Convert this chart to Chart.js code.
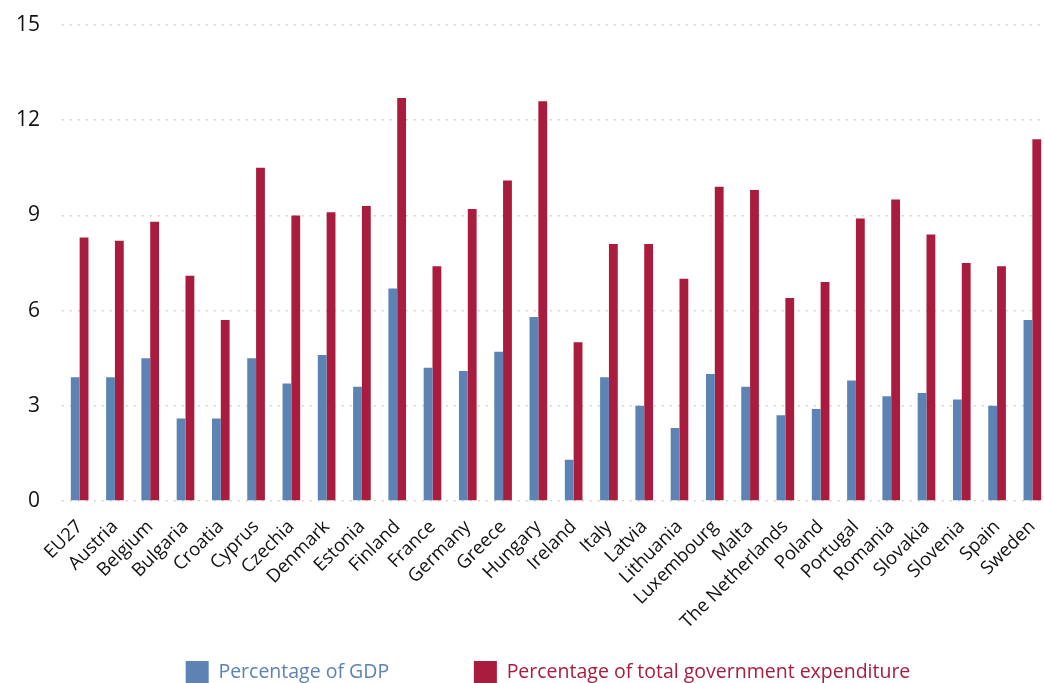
<!DOCTYPE html>
<html>
<head>
<meta charset="utf-8">
<script src="https://cdn.jsdelivr.net/npm/chart.js@4"></script>
<style>
  html, body { margin: 0; padding: 0; background: #fff; overflow: hidden; }
  #wrap { position: relative; width: 1052px; height: 694px; }
</style>
</head>
<body>
<div id="wrap"><canvas id="chart"></canvas></div>
<script>
const countries = ['EU27', 'Austria', 'Belgium', 'Bulgaria', 'Croatia', 'Cyprus', 'Czechia', 'Denmark',
  'Estonia', 'Finland', 'France', 'Germany', 'Greece', 'Hungary', 'Ireland', 'Italy', 'Latvia',
  'Lithuania', 'Luxembourg', 'Malta', 'The Netherlands', 'Poland', 'Portugal', 'Romania',
  'Slovakia', 'Slovenia', 'Spain', 'Sweden'];
const pctGdp = [3.9, 3.9, 4.5, 2.6, 2.6, 4.5, 3.7, 4.6, 3.6, 6.7, 4.2, 4.1, 4.7, 5.8, 1.3, 3.9, 3.0,
  2.3, 4.0, 3.6, 2.7, 2.9, 3.8, 3.3, 3.4, 3.2, 3.0, 5.7];
const pctExpenditure = [8.3, 8.2, 8.8, 7.1, 5.7, 10.5, 9.0, 9.1, 9.3, 12.7, 7.4, 9.2, 10.1, 12.6, 5.0,
  8.1, 8.1, 7.0, 9.9, 9.8, 6.4, 6.9, 8.9, 9.5, 8.4, 7.5, 7.4, 11.4];
const yTicks = [0, 3, 6, 9, 12, 15];

const blue = '#5d83b5';
const red = '#aa1c3d';
const font = "'Open Sans', sans-serif";

// the original legend sits a little right of the canvas centre
const legendShift = {
  id: 'legendShift',
  afterLayout(chart) { chart.legend.left += 29; }
};

new Chart(document.getElementById('chart'), {
  type: 'bar',
  data: {
    labels: countries,
    datasets: [
      { label: 'Percentage of GDP', data: pctGdp, backgroundColor: blue },
      { label: 'Percentage of total government expenditure', data: pctExpenditure, backgroundColor: red }
    ]
  },
  plugins: [legendShift],
  options: {
    responsive: true,
    maintainAspectRatio: false,
    animation: false,
    layout: { padding: { left: 17, right: 2, top: 25, bottom: 0 } },
    datasets: { bar: { categoryPercentage: 0.5, barPercentage: 1.0 } },
    plugins: {
      tooltip: { enabled: false },
      legend: {
        position: 'bottom',
        labels: {
          boxWidth: 23,
          boxHeight: 23,
          padding: 26,
          font: { family: font, size: 19.5 },
          generateLabels: function(chart) {
            const items = chart.data.datasets.map((ds, i) => ({
              text: ds.label,
              fillStyle: ds.backgroundColor,
              strokeStyle: ds.backgroundColor,
              lineWidth: 0,
              fontColor: ds.backgroundColor,
              datasetIndex: i
            }));
            // blank spacer between the two entries
            items.splice(1, 0, { text: '', fillStyle: 'rgba(0,0,0,0)', strokeStyle: 'rgba(0,0,0,0)', lineWidth: 0 });
            return items;
          }
        }
      }
    },
    scales: {
      x: {
        grid: { display: false, drawTicks: false },
        border: { display: false },
        afterFit: axis => { axis.paddingLeft = 0; axis.paddingRight = 0; axis.height = 134; },
        ticks: {
          color: '#111',
          font: { family: font, size: 18.5 },
          maxRotation: 45,
          minRotation: 45,
          padding: 15,
          autoSkip: false
        }
      },
      y: {
        min: 0,
        max: 15,
        afterBuildTicks: axis => { axis.ticks = yTicks.map(v => ({ value: v })); },
        afterFit: axis => { axis.width = 45; axis.paddingTop = 0; axis.paddingBottom = 0; },
        grid: { color: '#c8c8c8', lineWidth: 1.5, drawTicks: false, borderDash: [1.5, 6.5] },
        border: { display: false, dash: [1.5, 6.5] },
        ticks: { color: '#111', font: { family: font, size: 21 }, padding: 22 }
      }
    }
  }
});
</script>
</body>
</html>
